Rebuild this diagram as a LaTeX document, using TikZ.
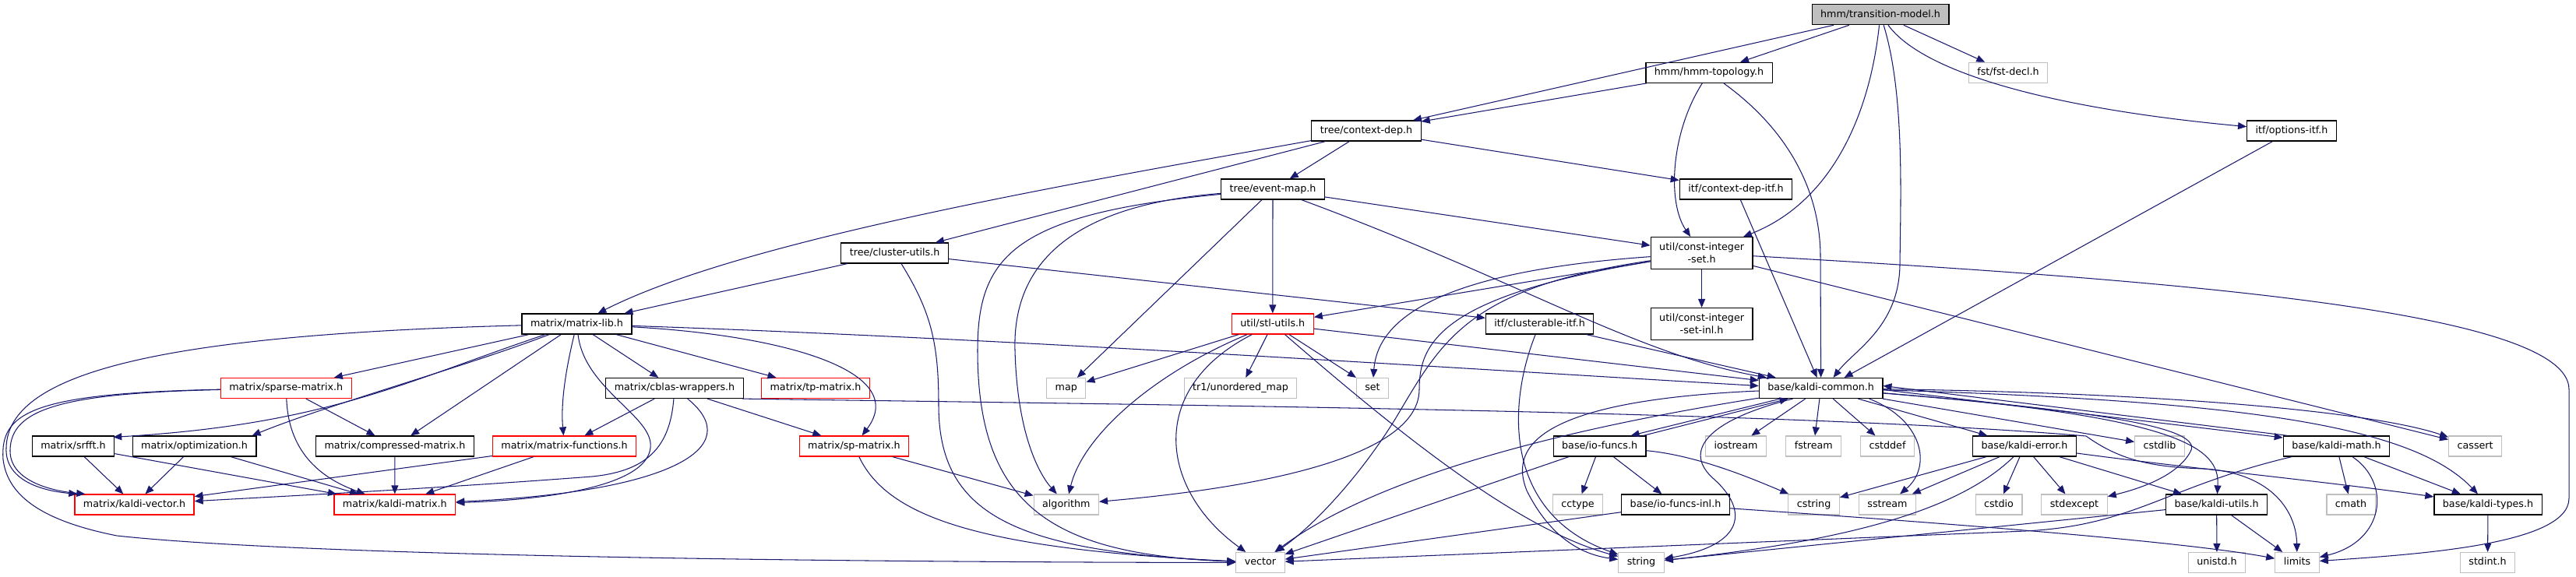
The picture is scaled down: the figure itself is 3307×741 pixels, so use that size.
\documentclass[tikz,border=0pt]{standalone}
\usepackage{fontspec}
\setmainfont{DejaVu Sans}
\usetikzlibrary{arrows.meta}
\definecolor{edgeblue}{HTML}{191970}
\definecolor{sysgray}{HTML}{BFBFBF}
\tikzset{
  hdr/.style={rectangle, fill=white, font=\fontsize{12.7}{16}\selectfont, inner xsep=11pt, inner ysep=6.75pt, minimum height=26pt},
  file/.style={hdr, draw=black, line width=1.2pt, text height=9.6pt, text depth=2.9pt},
  filetwo/.style={hdr, draw=black, line width=1.2pt, align=center, inner ysep=7.5pt},
  trunc/.style={hdr, draw=red, line width=1.2pt, text height=9.6pt, text depth=2.9pt},
  sys/.style={hdr, draw=sysgray, line width=1.1pt, text height=9.6pt, text depth=2.9pt},
  root/.style={file, fill=sysgray},
  dep/.style={->, draw=edgeblue, line width=1.05pt}
}
\begin{document}
\begin{tikzpicture}[x=1pt, y=-1pt, >={Triangle[length=11pt,width=9pt]}]
    \useasboundingbox (0,0) rectangle (3307,741);
    \node[root] (tmodel) at (2414,18.7) {hmm/transition-model.h};
    \node[file] (topo) at (2194,93.3) {hmm/hmm-topology.h};
    \node[sys] (fstdecl) at (2578,93.3) {fst/fst-decl.h};
    \node[file] (ctxdep) at (1754,168) {tree/context-dep.h};
    \node[file] (optitf) at (2942,168) {itf/options-itf.h};
    \node[file] (evmap) at (1634,243) {tree/event-map.h};
    \node[file] (ctxitf) at (2228.5,243) {itf/context-dep-itf.h};
    \node[file] (clutils) at (1148.6,325) {tree/cluster-utils.h};
    \node[filetwo] (cis) at (2184.6,325) {util/const-integer\\-set.h};
    \node[file] (mlib) at (740.5,416) {matrix/matrix-lib.h};
    \node[trunc] (stlu) at (1633.8,416) {util/stl-utils.h};
    \node[file] (clitf) at (1976.6,416) {itf/clusterable-itf.h};
    \node[filetwo] (cisinl) at (2184.6,416) {util/const-integer\\-set-inl.h};
    \node[trunc] (sparse) at (367.3,498.5) {matrix/sparse-matrix.h};
    \node[file] (cblas) at (866,498.5) {matrix/cblas-wrappers.h};
    \node[trunc] (tpmat) at (1047,498.5) {matrix/tp-matrix.h};
    \node[sys] (map) at (1368.8,498.5) {map};
    \node[sys] (umap) at (1592.5,498.5) {tr1/unordered\_map};
    \node[sys] (set) at (1762,498.5) {set};
    \node[file] (common) at (2337.6,498.5) {base/kaldi-common.h};
    \node[file] (srfft) at (94,573) {matrix/srfft.h};
    \node[file] (optim) at (249.6,573) {matrix/optimization.h};
    \node[file] (cmat) at (507,573) {matrix/compressed-matrix.h};
    \node[trunc] (mfun) at (724.6,573) {matrix/matrix-functions.h};
    \node[trunc] (spmat) at (1096.4,573) {matrix/sp-matrix.h};
    \node[file] (iofuncs) at (2053.6,573) {base/io-funcs.h};
    \node[sys] (iostream) at (2228.5,573) {iostream};
    \node[sys] (fstream) at (2328.3,573) {fstream};
    \node[sys] (cstddef) at (2423,573) {cstddef};
    \node[file] (kerror) at (2599,573) {base/kaldi-error.h};
    \node[sys] (cstdlib) at (2772.5,573) {cstdlib};
    \node[file] (kmath) at (2999.5,573) {base/kaldi-math.h};
    \node[sys] (cassert) at (3177.6,573) {cassert};
    \node[trunc] (kvec) at (172.5,648) {matrix/kaldi-vector.h};
    \node[trunc] (kmat) at (506.8,648) {matrix/kaldi-matrix.h};
    \node[sys] (algorithm) at (1368.8,648) {algorithm};
    \node[sys] (cctype) at (2025.5,648) {cctype};
    \node[file] (iofinl) at (2151,648) {base/io-funcs-inl.h};
    \node[sys] (cstring) at (2328.6,648) {cstring};
    \node[sys] (sstream) at (2423,648) {sstream};
    \node[sys] (cstdio) at (2566,648) {cstdio};
    \node[sys] (stdexcept) at (2663,648) {stdexcept};
    \node[file] (kutils) at (2845.6,648) {base/kaldi-utils.h};
    \node[sys] (cmath) at (3018,648) {cmath};
    \node[file] (ktypes) at (3194,648) {base/kaldi-types.h};
    \node[sys] (vector) at (1618,722.5) {vector};
    \node[sys] (string) at (2107,722.5) {string};
    \node[sys] (unistd) at (2846,722.5) {unistd.h};
    \node[sys] (limits) at (2949,722.5) {limits};
    \node[sys] (stdint) at (3193.5,722.5) {stdint.h};

    \draw[dep] (tmodel) -- (topo);
    \draw[dep] (tmodel) -- (ctxdep);
    \draw[dep] (tmodel) -- (fstdecl);
    \draw[dep] (tmodel) .. controls (2470,95) and (2640,140) .. (optitf);
    \draw[dep] (tmodel) .. controls (2400,150) and (2350,260) .. (cis);
    \draw[dep] (tmodel) .. controls (2445,120) and (2440,250) .. (2439,340) .. controls (2438,420) and (2380,450) .. ([xshift=16pt]common.north);
    \draw[dep] (topo) -- (ctxdep);
    \draw[dep] (topo) .. controls (2145,170) and (2140,260) .. (cis);
    \draw[dep] (topo) .. controls (2300,170) and (2337,250) .. (2337,330) -- (common.north);
    \draw[dep] (ctxdep) -- (evmap);
    \draw[dep] (ctxdep) .. controls (1350,240) and (950,310) .. (mlib);
    \draw[dep] (ctxdep) -- (clutils);
    \draw[dep] (ctxdep) -- (ctxitf);
    \draw[dep] (optitf) -- ([xshift=30pt]common.north);
    \draw[dep] (ctxitf) -- ([xshift=-5pt]common.north);
    \draw[dep] (evmap) -- (cis);
    \draw[dep] (evmap) -- (stlu);
    \draw[dep] (evmap) -- (map);
    \draw[dep] (evmap) .. controls (1360,265) and (1300,350) .. (1303,450) .. controls (1306,560) and (1335,610) .. (algorithm);
    \draw[dep] (evmap) .. controls (1300,275) and (1255,330) .. (1255,450) .. controls (1255,650) and (1350,712) .. (vector);
    \draw[dep] (evmap) .. controls (1950,360) and (2100,455) .. ([xshift=10pt]common.north west);
    \draw[dep] (clutils) -- (mlib);
    \draw[dep] (clutils) -- (clitf);
    \draw[dep] (clutils) .. controls (1195,400) and (1205,440) .. (1205,520) .. controls (1205,660) and (1300,708) .. (vector);
    \draw[dep] (cis) -- (stlu);
    \draw[dep] (cis) .. controls (1900,345) and (1770,390) .. (set);
    \draw[dep] (cis) .. controls (1850,380) and (1822,440) .. (1822,500) .. controls (1822,600) and (1550,632) .. (algorithm);
    \draw[dep] (cis) .. controls (1880,370) and (1850,440) .. (1790,540) .. controls (1740,620) and (1680,680) .. (vector);
    \draw[dep] (cis) -- (cisinl);
    \draw[dep] (cis) .. controls (2800,360) and (3298,400) .. (3298,500) -- (3298,640) .. controls (3298,700) and (3100,712) .. (limits);
    \draw[dep] (cis) -- (cassert);
    \draw[dep] (stlu) -- (map);
    \draw[dep] (stlu) -- (umap);
    \draw[dep] (stlu) -- (set);
    \draw[dep] (stlu) .. controls (1480,480) and (1390,560) .. (algorithm);
    \draw[dep] (stlu) .. controls (1470,500) and (1490,630) .. (vector);
    \draw[dep] (stlu) .. controls (1800,560) and (1950,680) .. (string);
    \draw[dep] (stlu) -- ([yshift=10pt]common.west);
    \draw[dep] (clitf) .. controls (1935,520) and (1930,660) .. (string);
    \draw[dep] (clitf) -- ([xshift=22pt]common.north west);
    \draw[dep] (mlib) .. controls (1300,435) and (1900,475) .. ([yshift=3pt]common.west);
    \draw[dep] (mlib) .. controls (200,430) and (10,480) .. (8,575) .. controls (6,615) and (50,630) .. ([xshift=4pt]kvec.north west);
    \draw[dep] (mlib) .. controls (750,500) and (840,535) .. (835,575) .. controls (830,625) and (700,642) .. (kmat);
    \draw[dep] (mlib) .. controls (1000,430) and (1170,475) .. (spmat);
    \draw[dep] (mlib) -- (tpmat);
    \draw[dep] (mlib) .. controls (725,480) and (720,520) .. (mfun);
    \draw[dep] (mlib) .. controls (520,490) and (420,545) .. ([xshift=-2pt,yshift=-2pt]srfft.north east);
    \draw[dep] (mlib) .. controls (600,470) and (420,520) .. ([xshift=-6pt]optim.north east);
    \draw[dep] (mlib) -- (sparse);
    \draw[dep] (mlib) -- (cmat);
    \draw[dep] (mlib) -- (cblas);
    \draw[dep] (sparse) -- (cmat);
    \draw[dep] (sparse) .. controls (370,570) and (400,610) .. (kmat);
    \draw[dep] (sparse) .. controls (80,505) and (14,525) .. (13,578) .. controls (12,615) and (60,630) .. ([xshift=14pt]kvec.north west);
    \draw[dep] (sparse) .. controls (40,505) and (0,530) .. (4,590) .. controls (10,640) and (60,670) .. (150,688) .. controls (400,715) and (1100,722) .. (vector);
    \draw[dep] ([xshift=-2pt]cblas.south east) .. controls (1500,520) and (2300,528) .. (2678,560) .. controls (2720,590) and (2760,600) .. (2830,602) .. controls (2920,608) and (2948,660) .. (limits);
    \draw[dep] (cblas) -- (spmat);
    \draw[dep] (cblas) .. controls (860,575) and (830,605) .. (760,612) .. controls (550,628) and (350,638) .. (kvec);
    \draw[dep] (cblas) .. controls (960,575) and (860,632) .. (kmat);
    \draw[dep] (cblas) -- (mfun);
    \draw[dep] (spmat) -- (algorithm);
    \draw[dep] (spmat) .. controls (1140,665) and (1260,705) .. (vector);
    \draw[dep] (srfft) -- (kvec);
    \draw[dep] (srfft) -- (kmat);
    \draw[dep] (optim) -- (kvec);
    \draw[dep] (optim) -- (kmat);
    \draw[dep] (cmat) -- (kmat);
    \draw[dep] (mfun) -- (kvec);
    \draw[dep] (mfun) -- (kmat);
    \draw[dep] (common) -- (iostream);
    \draw[dep] (common) -- (fstream);
    \draw[dep] (common) -- (cstddef);
    \draw[dep] ([xshift=62pt]common.south) .. controls (2470,540) and (2480,600) .. (sstream);
    \draw[dep] (common) -- (kerror);
    \draw[dep] (common) -- (cstdlib);
    \draw[dep] (common) .. controls (2700,528) and (2830,550) .. (2812,580) .. controls (2795,612) and (2745,628) .. (stdexcept);
    \draw[dep] (common) .. controls (2800,535) and (2850,575) .. (kutils);
    \draw[dep] ([yshift=-2pt]common.east) -- ([yshift=11pt]kmath.west);
    \draw[dep] (common) .. controls (2800,505) and (3050,530) .. (cassert);
    \draw[dep] (common) .. controls (2900,515) and (3100,550) .. (ktypes);
    \draw[dep] (common) .. controls (1960,515) and (1940,580) .. (1960,630) .. controls (1990,690) and (2030,712) .. (string);
    \draw[dep] ([xshift=-36pt]common.south) .. controls (2190,540) and (2160,580) .. (2200,615) .. controls (2245,655) and (2240,700) .. (string);
    \draw[dep] (common) .. controls (1950,560) and (1750,625) .. (vector);
    \draw[dep] ([xshift=-52pt]common.south) -- ([xshift=40pt]iofuncs.north);
    \draw[dep] ([xshift=56pt]iofuncs.north) -- ([xshift=-42pt]common.south);
    \draw[dep] (iofuncs) -- (cctype);
    \draw[dep] (iofuncs) -- (iofinl);
    \draw[dep] (iofuncs) .. controls (2180,585) and (2250,615) .. (cstring);
    \draw[dep] (iofuncs) -- (vector);
    \draw[dep] (iofinl) -- (vector);
    \draw[dep] (iofinl) .. controls (2500,672) and (2800,695) .. (limits);
    \draw[dep] (kerror) -- (cstring);
    \draw[dep] (kerror) -- (sstream);
    \draw[dep] (kerror) .. controls (2530,640) and (2420,690) .. (string);
    \draw[dep] (kerror) -- (cstdio);
    \draw[dep] (kerror) -- (stdexcept);
    \draw[dep] (kerror) -- (kutils);
    \draw[dep] (kerror) .. controls (2800,600) and (3000,620) .. (ktypes);
    \draw[dep] (kutils) -- (unistd);
    \draw[dep] (kutils) -- (limits);
    \draw[dep] (kutils) -- (string);
    \draw[dep] ([xshift=6pt]kmath.north west) -- ([yshift=3pt]common.east);
    \draw[dep] (kmath) .. controls (2780,625) and (2740,675) .. (2600,682) -- (vector);
    \draw[dep] (kmath) -- (cmath);
    \draw[dep] (kmath) .. controls (3070,620) and (3062,695) .. (limits);
    \draw[dep] (kmath) -- (ktypes);
    \draw[dep] (ktypes) -- (stdint);
\end{tikzpicture}
\end{document}
